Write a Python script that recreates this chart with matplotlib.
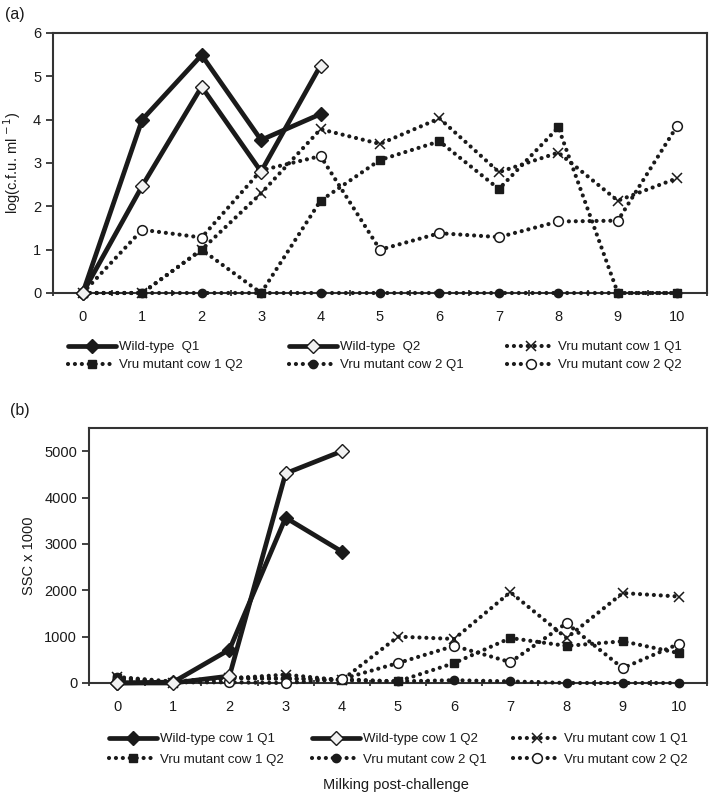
import numpy as np
import matplotlib

matplotlib.use("Agg")
import matplotlib.pyplot as plt

plt.rcParams["font.family"] = ["Liberation Sans", "DejaVu Sans"]

milking = list(range(11))

# panel (a): log(c.f.u. ml-1)
wt_q1_a = [0, 4.0, 5.49, 3.53, 4.13]
wt_q2_a = [0, 2.47, 4.76, 2.8, 5.25]
c1q1_a = [0, 0, 1.0, 2.3, 3.78, 3.44, 4.03, 2.79, 3.24, 2.13, 2.65]
c1q2_a = [0, 0, 1.0, 0, 2.13, 3.07, 3.5, 2.4, 3.82, 0, 0]
c2q1_a = [0, 0, 0, 0, 0, 0, 0, 0, 0, 0, 0]
c2q2_a = [0, 1.46, 1.28, 2.83, 3.16, 1.0, 1.38, 1.29, 1.65, 1.67, 3.86]

# panel (b): SSC x 1000
wt_q1_b = [0, 20, 720, 3565, 2835]
wt_q2_b = [0, 0, 150, 4520, 5000]
c1q1_b = [120, 0, 100, 180, 60, 1000, 950, 1960, 970, 1940, 1865]
c1q2_b = [100, 20, 100, 90, 60, 35, 430, 970, 800, 900, 645]
c2q1_b = [130, 30, 120, 100, 80, 35, 60, 35, 0, 0, 0]
c2q2_b = [40, 15, 15, 0, 85, 430, 800, 450, 1290, 320, 845]

labels_a = ["Wild-type  Q1", "Wild-type  Q2", "Vru mutant cow 1 Q1",
            "Vru mutant cow 1 Q2", "Vru mutant cow 2 Q1", "Vru mutant cow 2 Q2"]
labels_b = ["Wild-type cow 1 Q1", "Wild-type cow 1 Q2", "Vru mutant cow 1 Q1",
            "Vru mutant cow 1 Q2", "Vru mutant cow 2 Q1", "Vru mutant cow 2 Q2"]

INK = "#1a1a1a"
SOLID = dict(color=INK, lw=3.4, solid_capstyle="round", clip_on=False)
DOTTED = dict(color=INK, lw=3.0, linestyle=(0, (0.01, 1.65)),
              dash_capstyle="round", clip_on=False)
MARKERS = [
    dict(marker="D", ms=7.5, mfc=INK, mec=INK),
    dict(marker="D", ms=7.5, mfc="#f2f2f2", mec=INK, mew=1.0),
    dict(marker="x", ms=7.5, mec=INK, mew=1.1),
    dict(marker="s", ms=6, mfc=INK, mec=INK),
    dict(marker="o", ms=6, mfc=INK, mec=INK),
    dict(marker="o", ms=7, mfc="white", mec=INK, mew=1.1),
]


def draw_panel(ax, series, ymax, yticks):
    # dotted series first so the wild-type lines sit on top
    lines = {}
    for i in [2, 3, 4, 5, 0, 1]:
        vals = series[i]
        style = SOLID if i < 2 else DOTTED
        ln, = ax.plot(milking[:len(vals)], vals, zorder=3 + (i < 2), **style, **MARKERS[i])
        lines[i] = ln
    ax.set_xlim(-0.5, 10.5)
    ax.set_ylim(0, ymax)
    ax.set_xticks(milking)
    ax.set_xticks(np.arange(-0.5, 11, 1.0), minor=True)
    ax.set_yticks(yticks)
    ax.tick_params(axis="x", which="major", length=0, pad=12, labelsize=10.5, colors=INK)
    ax.tick_params(axis="x", which="minor", length=5, width=1.3, direction="inout", color="#333333")
    ax.tick_params(axis="y", length=5, width=1.3, direction="out", labelsize=10.5,
                   colors=INK, color="#333333")
    for sp in ax.spines.values():
        sp.set_linewidth(1.5)
        sp.set_color("#333333")
    return [lines[i] for i in range(6)]


fig = plt.figure(figsize=(7.09, 8.02), dpi=100)
W, H = 709, 802

ax_a = fig.add_axes([53 / W, 1 - 293 / H, (707 - 53) / W, (293 - 33) / H])
ax_b = fig.add_axes([89 / W, 1 - 683 / H, (707 - 89) / W, (683 - 428) / H])

h_a = draw_panel(ax_a, [wt_q1_a, wt_q2_a, c1q1_a, c1q2_a, c2q1_a, c2q2_a], 6, range(7))
h_b = draw_panel(ax_b, [wt_q1_b, wt_q2_b, c1q1_b, c1q2_b, c2q1_b, c2q2_b], 5500,
                 range(0, 5001, 1000))

ax_a.set_ylabel("log(c.f.u. ml$^{\\,-1}$)", fontsize=10.5, color=INK, labelpad=7)
ax_b.set_ylabel("SSC x 1000", fontsize=10.5, color=INK, labelpad=6)

fig.text(5 / W, 1 - 14 / H, "(a)", fontsize=11.5, va="center", color=INK)
fig.text(10 / W, 1 - 410 / H, "(b)", fontsize=11.5, va="center", color=INK)
fig.text(396 / W, 1 - 785 / H, "Milking post-challenge", fontsize=10.5,
         ha="center", va="center", color=INK)


def legend_cols(handles, labels, xs, ytop, spacing):
    for col, x in enumerate(xs):
        idx = [col, col + 3]
        fig.legend([handles[i] for i in idx], [labels[i] for i in idx],
                   loc="upper left", bbox_to_anchor=(x / W, 1 - ytop / H),
                   frameon=False, fontsize=9.5, handlelength=3.6, handletextpad=0.25,
                   borderpad=0, borderaxespad=0, labelspacing=spacing, numpoints=1,
                   labelcolor=INK)


legend_cols(h_a, labels_a, [68, 289, 507], 341, 0.45)
legend_cols(h_b, labels_b, [109, 312, 513], 733, 0.65)

fig.savefig("out.png", dpi=100)
